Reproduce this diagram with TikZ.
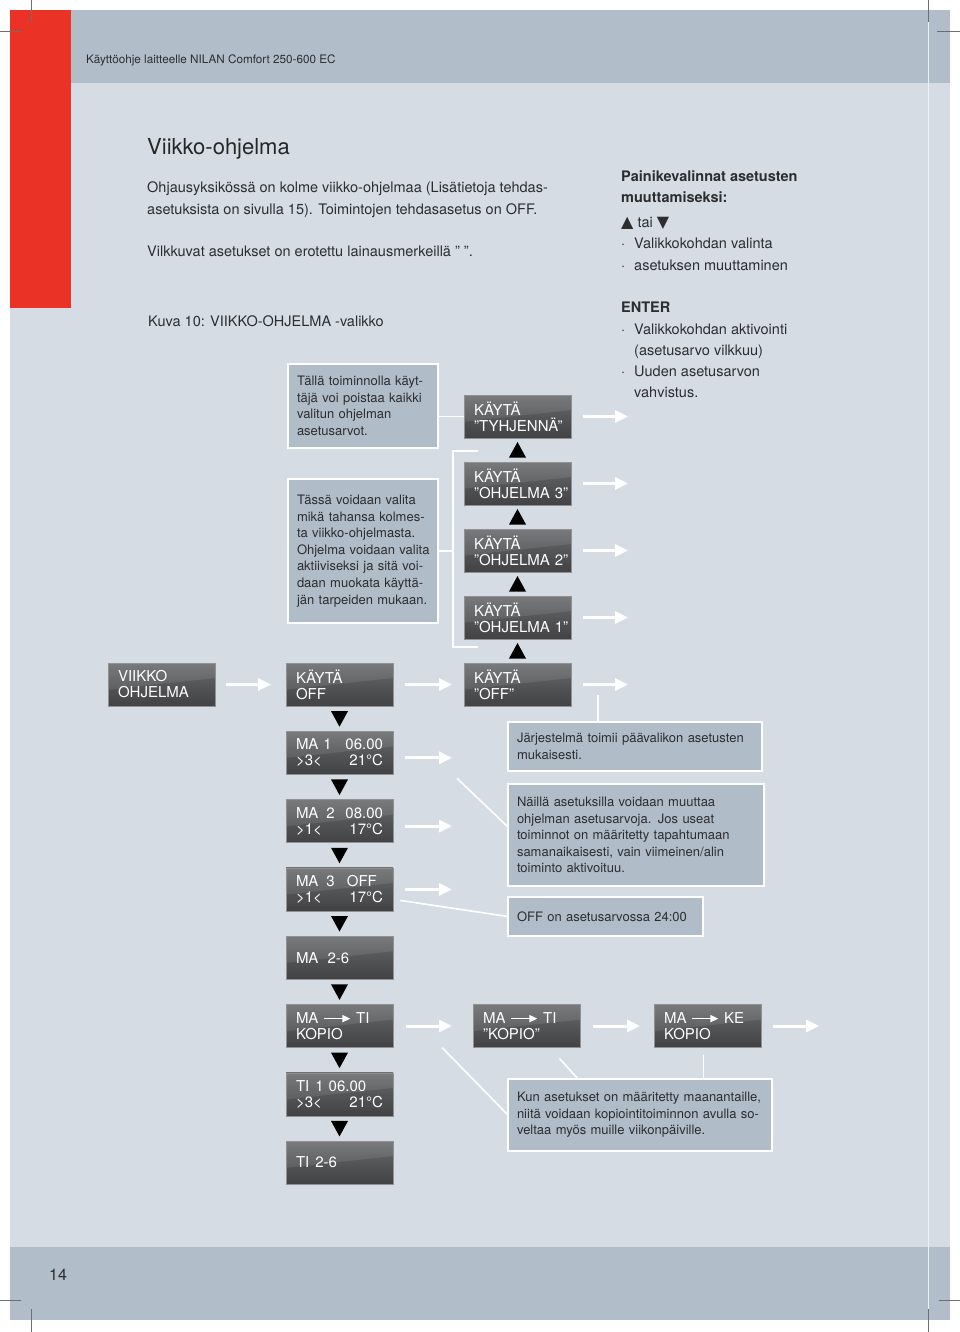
\documentclass[tikz,border=0pt]{standalone}
\usepackage{fontspec}
\setmainfont{TeX Gyre Heros}
\newfontfamily\dvfont{DejaVu Sans}
\usepackage{xcolor}
\usepackage{tikz}
\usetikzlibrary{arrows.meta, positioning, calc}
\definecolor{nlPage}{RGB}{213,220,227}
\definecolor{nlBand}{RGB}{177,189,201}
\definecolor{nlRed}{RGB}{234,50,38}
\definecolor{nlInk}{RGB}{45,45,48}
\definecolor{nlNote}{RGB}{176,188,200}
\definecolor{nlMark}{RGB}{110,110,110}
\definecolor{dkTop}{RGB}{108,109,111}
\definecolor{dkMid}{RGB}{84,85,87}
\definecolor{dkBot}{RGB}{66,66,68}
\newcommand{\cpyarrow}{\tikz[baseline=-0.6ex]\draw[white,line width=1.7pt,
  -{Triangle[length=8pt,width=7pt]}] (0pt,0pt) -- (26pt,0pt);}

\begin{document}
\begin{tikzpicture}[x=1pt,y=-1pt,font=\fontsize{14.5}{21}\selectfont,
  dbox/.style={draw=dkTop!75!white,line width=0.5pt,
               top color=dkTop,bottom color=dkBot,middle color=dkMid,
               path picture={\fill[white,opacity=0.09]
                 (path picture bounding box.north west) -- (path picture bounding box.north east)
                 -- ($(path picture bounding box.north east)!0.35!(path picture bounding box.south east)$)
                 .. controls ($(path picture bounding box.north west)!0.5!(path picture bounding box.south east)$)
                 .. ($(path picture bounding box.north west)!0.62!(path picture bounding box.south west)$)
                 -- cycle;},
               minimum width=107pt,minimum height=43pt,text width=87pt,
               inner xsep=10pt,inner ysep=0pt,outer sep=0pt,
               anchor=north west,align=left,text=white,
               font=\fontsize{15}{16}\selectfont},
  note/.style={draw=white,line width=1.8pt,fill=nlNote,
               inner xsep=9pt,inner ysep=0pt,outer sep=0pt,
               anchor=north west,align=left,text=nlInk,
               font=\fontsize{13}{16.6}\selectfont},
  txt/.style={inner sep=0pt,anchor=base west,align=left,text=nlInk},
  warr/.style={white,line width=3pt,-{Triangle[length=13pt,width=12pt]}},
  wline/.style={white,line width=1.6pt},
  tri/.style={fill=black}]

% ===== Page =====
\useasboundingbox (0,0) rectangle (960,1332);
\fill[white] (0,0) rectangle (960,1332);
\fill[nlPage] (10,10) rectangle (950,1320);
\fill[nlBand] (10,10) rectangle (950,83);
\fill[nlBand] (10,1247) rectangle (950,1320);
\fill[nlRed] (10,10) rectangle (71,308);
\draw[nlPage!40!white,line width=0.8pt] (928,22) -- (928,1309);
\draw[nlMark,line width=0.5pt] (31,0) -- (31,22) (0,31) -- (22,31)
  (928,0) -- (928,22) (937,31) -- (960,31)
  (0,1300) -- (21,1300) (31,1309) -- (31,1332)
  (939,1300) -- (960,1300) (928,1309) -- (928,1332);

% ===== Texts (base = last line) =====
\node[txt,font=\fontsize{11.7}{15}\selectfont] (hdr) at (86,64)
  {Käyttöohje laitteelle NILAN Comfort 250-600 EC};
\node[txt,font=\fontsize{22}{26}\selectfont,text=black!85] (ttl) at (147,155)
  {Viikko-ohjelma};
\node[txt] (intro) at (147,257)
  {Ohjausyksikössä on kolme viikko-ohjelmaa (Lisätietoja tehdas-\\
   asetuksista on sivulla 15). Toimintojen tehdasasetus on OFF.\\[22pt]
   Vilkkuvat asetukset on erotettu lainausmerkeillä ” ”.};
\node[txt] (cap) at (148,326) {Kuva 10: VIIKKO-OHJELMA -valikko};
\node[txt,font=\fontsize{14.5}{21}\selectfont\bfseries] (keys) at (621,203)
  {Painikevalinnat asetusten\\muuttamiseksi:};
\node[txt] (updn) at (621,228)
  {{\dvfont\fontsize{16}{21}\selectfont ▲} tai {\dvfont\fontsize{16}{21}\selectfont ▼}};
\node[txt] (updnl) at (621,270)
  {\makebox[13pt][l]{·}Valikkokohdan valinta\\
   \makebox[13pt][l]{·}asetuksen muuttaminen};
\node[txt,font=\fontsize{14.5}{21}\selectfont\bfseries] (ent) at (621,312) {ENTER};
\node[txt] (entl) at (621,397)
  {\makebox[13pt][l]{·}Valikkokohdan aktivointi\\
   \hspace*{13pt}(asetusarvo vilkkuu)\\
   \makebox[13pt][l]{·}Uuden asetusarvon\\
   \hspace*{13pt}vahvistus.};
\node[txt,font=\fontsize{16}{20}\selectfont] (pg) at (49,1280) {14};

% ===== Menu boxes =====
\node[dbox] (vo) at (108,663) {VIIKKO\\OHJELMA};
\node[dbox] (ko) at ($(vo.north east)+(71,0)$) {KÄYTÄ\\OFF};
\node[dbox] (kq) at ($(ko.north east)+(71,0)$) {KÄYTÄ\\”OFF”};
\node[dbox] (k1) at ($(kq.north west)+(0,-67)$) {KÄYTÄ\\”OHJELMA~1”};
\node[dbox] (k2) at ($(k1.north west)+(0,-67)$) {KÄYTÄ\\”OHJELMA~2”};
\node[dbox] (k3) at ($(k2.north west)+(0,-67)$) {KÄYTÄ\\”OHJELMA~3”};
\node[dbox] (tt) at ($(k3.north west)+(0,-67)$) {KÄYTÄ\\”TYHJENNÄ”};

\node[dbox] (m1) at ($(ko.south west)+(0,25.3)$) {MA 1\hfill 06.00\\>3<\hfill 21°C};
\node[dbox] (m2) at ($(m1.south west)+(0,25.3)$) {MA\hspace{8pt}2\hfill 08.00\\>1<\hfill 17°C};
\node[dbox] (m3) at ($(m2.south west)+(0,25.3)$) {MA\hspace{8pt}3\hspace{12pt}OFF\\>1<\hfill 17°C};
\node[dbox] (m4) at ($(m3.south west)+(0,25.3)$) {MA\hspace{9pt}2-6};
\node[dbox] (m5) at ($(m4.south west)+(0,25.3)$) {MA \cpyarrow{} TI\\KOPIO};
\node[dbox] (t1) at ($(m5.south west)+(0,25.3)$) {TI\hspace{6pt}1 06.00\\>3<\hfill 21°C};
\node[dbox] (t2) at ($(t1.south west)+(0,25.3)$) {TI\hspace{6pt}2-6};

\node[dbox] (c1) at ($(m5.north east)+(80,0)$) {MA \cpyarrow{} TI\\”KOPIO”};
\node[dbox] (c2) at ($(c1.north east)+(74,0)$) {MA \cpyarrow{} KE\\KOPIO};

% ===== Notes =====
\node[note,text width=132pt,minimum height=84pt] (n1) at (288,364)
  {Tällä toiminnolla käyt-\\täjä voi poistaa kaikki\\valitun ohjelman\\asetusarvot.};
\node[note,text width=132pt,minimum height=144pt] (n2) at (288,479)
  {Tässä voidaan valita\\mikä tahansa kolmes-\\ta viikko-ohjelmasta.\\\mbox{Ohjelma voidaan valita}\\
   \mbox{aktiiviseksi ja sitä voi-}\\daan muokata käyttä-\\jän tarpeiden mukaan.};
\node[note,text width=236pt,minimum height=49pt] (n3) at (508,722)
  {Järjestelmä toimii päävalikon asetusten\\mukaisesti.};
\node[note,text width=238pt,minimum height=102pt] (n4) at (508,784)
  {Näillä asetuksilla voidaan muuttaa\\ohjelman asetusarvoja. Jos useat\\
   toiminnot on määritetty tapahtumaan\\samanaikaisesti, vain viimeinen/alin\\toiminto aktivoituu.};
\node[note,text width=177pt,minimum height=39pt] (n5) at (508,897)
  {OFF on asetusarvossa 24:00};
\node[note,text width=246pt,minimum height=72pt] (n6) at (508,1079)
  {Kun asetukset on määritetty maanantaille,\\\mbox{niitä voidaan kopiointitoiminnon avulla so-}\\
   veltaa myös muille viikonpäiville.};

% ===== Triangles =====
\fill[tri] ($(ko.south)!0.5!(m1.north)$) +(-8.5,-7.5) -- +(8.5,-7.5) -- +(0,8) -- cycle;
\fill[tri] ($(m1.south)!0.5!(m2.north)$) +(-8.5,-7.5) -- +(8.5,-7.5) -- +(0,8) -- cycle;
\fill[tri] ($(m2.south)!0.5!(m3.north)$) +(-8.5,-7.5) -- +(8.5,-7.5) -- +(0,8) -- cycle;
\fill[tri] ($(m3.south)!0.5!(m4.north)$) +(-8.5,-7.5) -- +(8.5,-7.5) -- +(0,8) -- cycle;
\fill[tri] ($(m4.south)!0.5!(m5.north)$) +(-8.5,-7.5) -- +(8.5,-7.5) -- +(0,8) -- cycle;
\fill[tri] ($(m5.south)!0.5!(t1.north)$) +(-8.5,-7.5) -- +(8.5,-7.5) -- +(0,8) -- cycle;
\fill[tri] ($(t1.south)!0.5!(t2.north)$) +(-8.5,-7.5) -- +(8.5,-7.5) -- +(0,8) -- cycle;
\fill[tri] ($(kq.north)!0.5!(k1.south)$) +(-8.5,7.5) -- +(8.5,7.5) -- +(0,-8) -- cycle;
\fill[tri] ($(k1.north)!0.5!(k2.south)$) +(-8.5,7.5) -- +(8.5,7.5) -- +(0,-8) -- cycle;
\fill[tri] ($(k2.north)!0.5!(k3.south)$) +(-8.5,7.5) -- +(8.5,7.5) -- +(0,-8) -- cycle;
\fill[tri] ($(k3.north)!0.5!(tt.south)$) +(-8.5,7.5) -- +(8.5,7.5) -- +(0,-8) -- cycle;

% ===== White arrows =====
\coordinate (kqo) at ($(kq.east)+(57,0)$);
\coordinate (k1o) at ($(k1.east)+(57,0)$);
\coordinate (k2o) at ($(k2.east)+(57,0)$);
\coordinate (k3o) at ($(k3.east)+(57,0)$);
\coordinate (tto) at ($(tt.east)+(57,0)$);
\coordinate (m1o) at ($(m1.east)+(59,5)$);
\coordinate (m2o) at ($(m2.east)+(59,5)$);
\coordinate (m3o) at ($(m3.east)+(59,0)$);
\coordinate (c2o) at ($(c2.east)+(58,0)$);
\draw[warr,shorten <=11pt,shorten >=15pt] (vo) -- (ko);
\draw[warr,shorten <=12pt,shorten >=12pt] (ko) -- (kq);
\draw[warr,shorten <=12pt] (kq) -- (kqo);
\draw[warr,shorten <=12pt] (k1) -- (k1o);
\draw[warr,shorten <=12pt] (k2) -- (k2o);
\draw[warr,shorten <=12pt] (k3) -- (k3o);
\draw[warr,shorten <=12pt] (tt) -- (tto);
\draw[warr,shorten <=12pt] (m1o -| m1.east) -- (m1o);
\draw[warr,shorten <=12pt] (m2o -| m2.east) -- (m2o);
\draw[warr,shorten <=12pt] (m3) -- (m3o);
\draw[warr,shorten <=13pt,shorten >=21pt] (m5) -- (c1);
\draw[warr,shorten <=13pt,shorten >=14pt] (c1) -- (c2);
\draw[warr,shorten <=12pt] (c2) -- (c2o);

% ===== Note connectors =====
\coordinate (bt) at ($(tt.south west)+(-11,13)$);
\coordinate (bb) at ($(k1.south west)+(-11,8)$);
\draw[wline] (n1.east |- tt.west) -- (tt.west);
\draw[wline] ($(bt)+(25,0)$) -- (bt) -- (bb) -- ++(25,0);
\draw[wline] (n2.east) -- (n2.east -| bt);
\coordinate (q3) at ($(kq.east)+(27,10)$);
\draw[wline] (q3) -- (q3 |- n3.north);
\coordinate (q4) at ($(m1.south east)+(64,4)$);
\draw[wline] (q4) -- ($(n4.west)+(0,-8)$);
\coordinate (q5) at ($(m3.east)+(7,11)$);
\draw[wline] (q5) -- (n5.west);
\coordinate (q6) at ($(m5.south east)+(49,0)$);
\draw[wline] (q6) -- (n6.west);
\coordinate (q7) at ($(c1.south)+(33,11)$);
\draw[wline] (q7) -- ($(n6.north west)+(70,0)$);
\coordinate (q8) at ($(c2.south)+(-4,7)$);
\draw[wline] (q8) -- (q8 |- n6.north);
\end{tikzpicture}
\end{document}
